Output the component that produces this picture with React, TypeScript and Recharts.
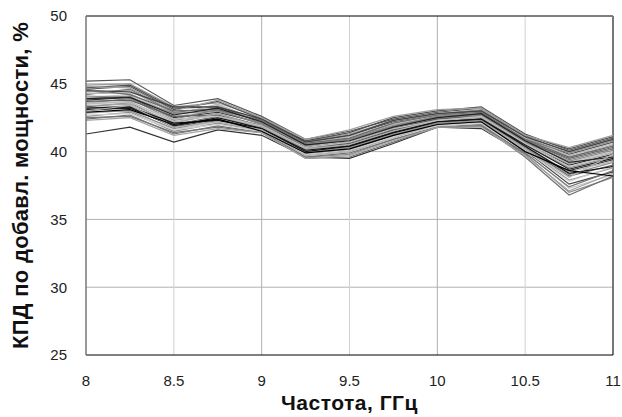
import React from "react";
import { LineChart, Line, XAxis, YAxis, CartesianGrid, ReferenceLine, Label } from "recharts";

const frequencies = [8, 8.25, 8.5, 8.75, 9, 9.25, 9.5, 9.75, 10, 10.25, 10.5, 10.75, 11];
const xTicks = [8, 8.5, 9, 9.5, 10, 10.5, 11];
const yTicks = [25, 30, 35, 40, 45, 50];

const s01 = [41.3, 41.8, 40.7, 41.6, 41.2, 39.6, 39.5, 40.6, 41.8, 41.7, 39.8, 38.6, 39.4];
const s02 = [45.2, 45.3, 43.4, 43.9, 42.6, 40.9, 41.5, 42.4, 42.9, 43.2, 41.2, 40.2, 41.1];
const s03 = [44.9, 45.0, 43.3, 43.6, 42.5, 40.8, 41.3, 42.3, 42.8, 43.1, 41.1, 40.0, 40.9];
const s04 = [44.6, 44.8, 43.1, 43.7, 42.4, 40.7, 41.2, 42.2, 42.7, 43.0, 41.0, 39.8, 40.7];
const s05 = [44.4, 44.5, 42.8, 43.4, 42.3, 40.6, 41.0, 42.0, 42.6, 42.9, 40.9, 39.6, 40.5];
const s06 = [44.2, 44.6, 42.9, 43.2, 42.2, 40.5, 40.9, 41.9, 42.5, 42.8, 40.8, 39.4, 40.2];
const s07 = [44.0, 44.2, 42.6, 43.0, 42.0, 40.4, 40.8, 41.8, 42.5, 42.7, 40.7, 39.2, 40.0];
const s08 = [43.8, 44.0, 42.5, 42.9, 42.1, 40.3, 40.7, 41.7, 42.4, 42.6, 40.6, 39.0, 39.8];
const s09 = [43.6, 43.9, 42.3, 42.8, 41.9, 40.2, 40.6, 41.6, 42.3, 42.6, 40.5, 38.8, 39.6];
const s10 = [43.5, 43.7, 42.2, 42.7, 41.8, 40.1, 40.5, 41.5, 42.2, 42.5, 40.4, 38.5, 39.3];
const s11 = [43.3, 43.6, 42.0, 42.6, 41.7, 40.0, 40.3, 41.4, 42.1, 42.4, 40.3, 38.2, 39.0];
const s12 = [43.2, 43.4, 41.9, 42.5, 41.8, 39.9, 40.2, 41.3, 42.0, 42.3, 40.2, 37.9, 38.8];
const s13 = [43.0, 43.3, 41.8, 42.4, 41.6, 39.8, 40.1, 41.2, 42.0, 42.2, 40.1, 37.6, 38.5];
const s14 = [42.8, 43.1, 41.6, 42.2, 41.5, 39.7, 40.0, 41.1, 41.9, 42.1, 40.0, 37.3, 38.3];
const s15 = [42.6, 42.9, 41.5, 42.1, 41.5, 39.6, 39.8, 40.9, 41.8, 42.0, 39.8, 37.0, 38.1];
const s16 = [42.4, 42.7, 41.3, 41.9, 41.4, 39.5, 39.6, 40.7, 41.8, 41.9, 39.6, 36.8, 38.2];
const s17 = [44.7, 44.9, 43.2, 43.3, 42.3, 40.8, 41.4, 42.5, 43.0, 43.3, 41.3, 40.1, 41.0];
const s18 = [44.3, 44.3, 42.7, 43.5, 42.2, 40.6, 41.1, 42.1, 42.7, 42.9, 41.0, 39.7, 40.6];
const s19 = [43.9, 44.1, 42.4, 43.1, 42.0, 40.5, 40.9, 41.9, 42.6, 42.8, 40.9, 39.9, 40.8];
const s20 = [43.7, 43.8, 42.6, 42.7, 41.9, 40.3, 40.6, 41.6, 42.4, 42.7, 40.8, 39.5, 40.3];
const s21 = [43.4, 43.5, 42.1, 42.8, 41.8, 40.2, 40.5, 41.5, 42.3, 42.5, 40.6, 39.1, 39.9];
const s22 = [43.1, 43.2, 41.9, 42.5, 41.7, 40.0, 40.4, 41.4, 42.2, 42.4, 40.5, 38.7, 39.5];
const s23 = [42.9, 43.0, 41.7, 42.3, 41.6, 39.9, 40.3, 41.3, 42.1, 42.3, 40.3, 38.3, 39.2];
const s24 = [42.7, 42.8, 41.6, 42.0, 41.5, 39.8, 40.1, 41.1, 41.9, 42.1, 40.1, 37.8, 38.9];
const s25 = [42.5, 42.6, 41.4, 41.8, 41.4, 39.6, 39.9, 40.9, 41.8, 41.9, 39.9, 37.4, 38.6];
const s26 = [44.8, 44.7, 43.0, 43.8, 42.5, 40.9, 41.6, 42.6, 43.1, 43.2, 41.2, 40.3, 41.2];
const s27 = [44.5, 44.4, 43.3, 43.3, 42.4, 40.7, 41.2, 42.3, 42.8, 43.0, 41.1, 40.0, 40.9];
const s28 = [44.1, 44.0, 42.8, 43.0, 42.1, 40.4, 40.9, 41.9, 42.5, 42.7, 40.7, 39.3, 40.1];
const s29 = [43.6, 43.6, 42.4, 42.6, 41.9, 40.3, 40.7, 41.7, 42.3, 42.6, 40.6, 38.9, 39.7];
const s30 = [43.2, 43.3, 42.1, 42.3, 41.7, 40.1, 40.4, 41.4, 42.2, 42.4, 40.4, 38.4, 38.9];
const s31 = [42.3, 42.5, 41.2, 41.7, 41.4, 39.5, 39.7, 40.8, 41.8, 41.8, 39.7, 37.1, 38.4];
const s32 = [44.6, 44.2, 43.0, 43.1, 42.3, 40.6, 41.0, 42.1, 42.7, 42.9, 40.9, 39.6, 40.4];
const s33 = [43.9, 44.0, 42.7, 43.2, 42.2, 40.5, 40.8, 41.8, 42.5, 42.8, 40.8, 39.2, 39.6];
const s34 = [43.0, 43.4, 41.8, 42.2, 41.6, 39.7, 40.0, 41.0, 42.0, 42.2, 40.2, 38.1, 39.8];
const s35 = [42.9, 43.1, 42.0, 42.4, 41.5, 39.9, 40.2, 41.2, 42.0, 42.2, 40.0, 38.6, 38.2];

const seriesList = [s01, s02, s03, s04, s05, s06, s07, s08, s09, s10, s11, s12, s13, s14, s15, s16, s17, s18, s19, s20, s21, s22, s23, s24, s25, s26, s27, s28, s29, s30, s31, s32, s33, s34, s35];
const seriesColors = [
  "#333333", "#555555", "#999999", "#555555", "#a8a8a8", "#777777", "#c4c4c4",
  "#333333", "#888888", "#b4b4b4", "#666666", "#a0a0a0", "#444444", "#c8c8c8",
  "#8c8c8c", "#707070", "#505050", "#b8b8b8", "#808080", "#606060", "#a8a8a8",
  "#1a1a1a", "#909090", "#d0d0d0", "#747474", "#a0a0a0", "#444444", "#888888",
  "#c0c0c0", "#111111", "#a4a4a4", "#6c6c6c", "#222222", "#b0b0b0", "#000000",
];

const data = frequencies.map((f, i) => {
  const row: Record<string, number> = { x: f };
  seriesList.forEach((s, k) => {
    row["s" + k] = s[i];
  });
  return row;
});

const font = "'Liberation Sans', Arial, sans-serif";

export default function App() {
  return (
    <div style={{ position: "absolute", left: 0, top: 0, background: "#fff" }}>
      <LineChart
        width={622}
        height={417}
        data={data}
        margin={{ top: 16, right: 9, bottom: 0, left: 0 }}
      >
        <CartesianGrid
          stroke="#b0b0b0"
          horizontalValues={[30, 35, 40, 45]}
          verticalValues={[9, 10]}
        />
        <CartesianGrid
          stroke="#d0d0d0"
          horizontal={false}
          verticalValues={[8.5, 9.5, 10.5]}
        />
        <XAxis
          dataKey="x"
          type="number"
          domain={[8, 11]}
          ticks={xTicks}
          height={62}
          tickLine={false}
          tickSize={0}
          tickMargin={20}
          axisLine={{ stroke: "#000", strokeWidth: 1 }}
          tick={{ fontSize: 15, fill: "#222", fontFamily: font }}
        >
          <Label
            value="Частота, ГГц"
            position="insideBottom"
            offset={7}
            style={{ fontSize: 21, fontWeight: "bold", fill: "#111", fontFamily: font, letterSpacing: 0.5 }}
          />
        </XAxis>
        <YAxis
          type="number"
          domain={[25, 50]}
          ticks={yTicks}
          width={86}
          tickLine={false}
          tickSize={0}
          tickMargin={19}
          axisLine={{ stroke: "#777", strokeWidth: 1.5 }}
          tick={{ fontSize: 15, fill: "#222", fontFamily: font }}
        >
          <Label
            value="КПД по добавл. мощности, %"
            angle={-90}
            position="insideLeft"
            offset={20}
            style={{ textAnchor: "middle", fontSize: 22, fontWeight: "bold", fill: "#111", fontFamily: font, letterSpacing: 0.3 }}
          />
        </YAxis>
        <ReferenceLine y={50} stroke="#000" strokeWidth={1} />
        <ReferenceLine x={11} stroke="#777" strokeWidth={2} />
        {seriesList.map((_, k) => (
          <Line
            key={k}
            dataKey={"s" + k}
            stroke={seriesColors[k]}
            strokeWidth={1.2}
            dot={false}
            isAnimationActive={false}
          />
        ))}
      </LineChart>
    </div>
  );
}
